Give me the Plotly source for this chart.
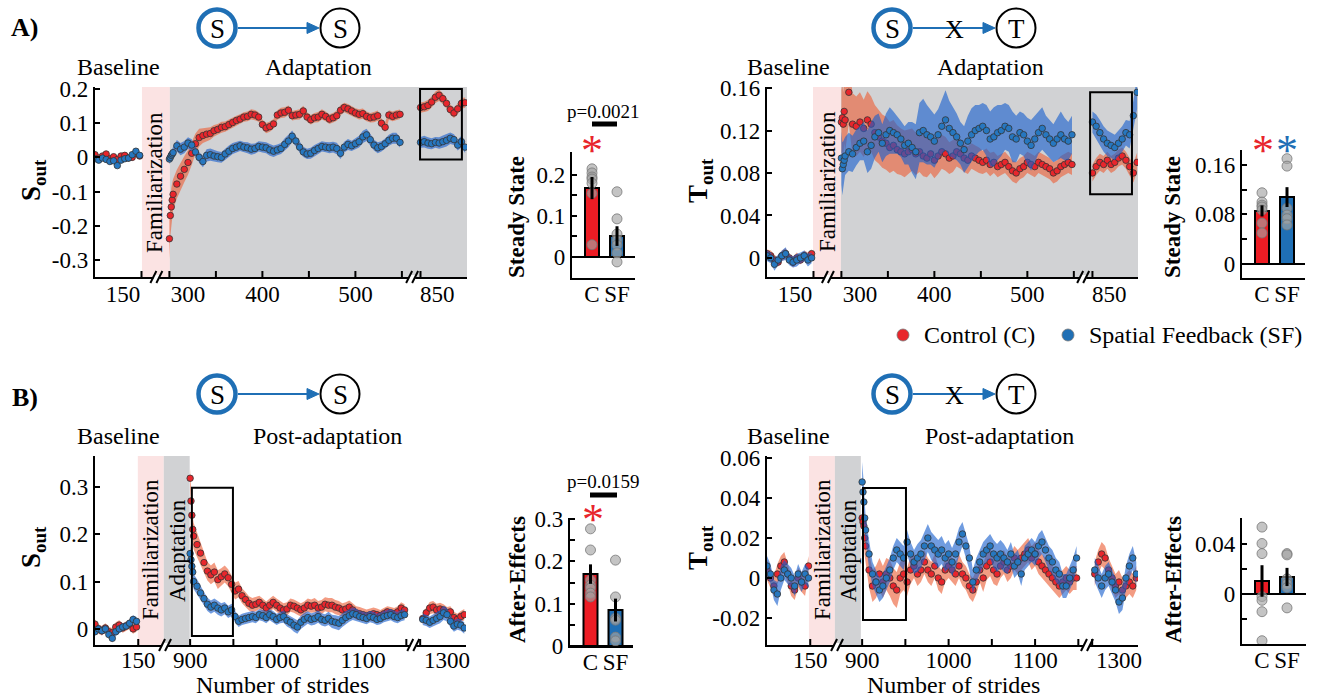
import plotly.graph_objects as go

W, H = 1317, 697
FONT = "Liberation Serif"
RED = "#E8262C"
BLUE = "#2677C0"
RED_BAR = "#ED1C24"
BLUE_BAR = "#1F6FB5"
RED_BAND = "rgba(236,95,55,0.62)"
BLUE_BAND = "rgba(25,95,205,0.62)"
GRAY = "#D1D2D4"
PINK = "#FBE3E3"

# ------------------------------------------------------------------ data
# stride numbers of each segment
base_strides = [101 + 4 * i for i in range(13)]
adapt_strides = [300, 301, 302, 303] + [304 + 4 * i for i in range(62)]
late_adapt_strides = [832 + 4 * i for i in range(13)]
post_strides = [900, 901, 902, 903] + [904 + 4 * i for i in range(62)]
late_post_strides = [1272 + 4 * i for i in range(13)]

# ---- A) S_out (spatial) during adaptation ----
SA_base_C = [0.008, -0.002, 0.004, 0.010, -0.004, 0.002, -0.006, 0.004, 0.006, -0.002, 0.000, 0.012, 0.004]
SA_base_SF = [-0.004, -0.008, -0.002, -0.006, -0.012, -0.010, -0.024, -0.008, -0.004, -0.002, 0.008, 0.018, 0.006]
SA_adapt_C = [-0.238, -0.170, -0.145, -0.125,
              -0.108, -0.078, -0.055, -0.035, -0.015, 0.012, 0.040, 0.058, 0.064, 0.068,
              0.070, 0.078, 0.082, 0.088, 0.090, 0.096, 0.102, 0.108, 0.112, 0.118,
              0.120, 0.126, 0.124, 0.118, 0.096, 0.086, 0.090, 0.098, 0.124, 0.130,
              0.132, 0.138, 0.122, 0.124, 0.126, 0.136, 0.118, 0.110, 0.116, 0.118,
              0.126, 0.120, 0.112, 0.116, 0.122, 0.138, 0.146, 0.142, 0.136, 0.130,
              0.126, 0.128, 0.120, 0.116, 0.118, 0.122, 0.100, 0.088, 0.124, 0.120,
              0.124, 0.126]
SA_adapt_SF = [-0.005, 0.000, 0.006, 0.010,
               0.014, 0.034, 0.024, 0.030, 0.042, 0.036, 0.016, 0.000, -0.012, 0.006,
               0.008, 0.004, 0.002, 0.000, 0.010, 0.018, 0.026, 0.030, 0.034, 0.030,
               0.028, 0.024, 0.026, 0.032, 0.030, 0.028, 0.022, 0.018, 0.022, 0.026,
               0.038, 0.048, 0.062, 0.048, 0.030, 0.016, 0.010, 0.012, 0.020, 0.026,
               0.032, 0.030, 0.028, 0.030, 0.026, 0.012, 0.030, 0.038, 0.034, 0.040,
               0.046, 0.060, 0.066, 0.052, 0.036, 0.028, 0.032, 0.040, 0.050, 0.056,
               0.056, 0.044]
SA_late_C = [0.146, 0.148, 0.152, 0.162, 0.176, 0.182, 0.172, 0.158, 0.140, 0.130, 0.142, 0.158, 0.160]
SA_late_SF = [0.044, 0.046, 0.042, 0.040, 0.044, 0.042, 0.046, 0.050, 0.056, 0.052, 0.036, 0.046, 0.030]
# standard errors (x 0.001)
SA_base_C_se = [8, 8, 7, 8, 8, 7, 8, 8, 7, 8, 8, 9, 8]
SA_base_SF_se = [7, 8, 8, 7, 8, 9, 8, 7, 8, 8, 8, 9, 8]
SA_adapt_C_se = [60, 60, 55, 50,
                 45, 42, 40, 38, 36, 34, 30, 26, 22, 20,
                 18, 17, 16, 16, 15, 15, 15, 14, 14, 14,
                 14, 15, 15, 14, 14, 15, 15, 14, 14, 15,
                 15, 14, 14, 14, 15, 15, 14, 14, 14, 15,
                 15, 14, 14, 14, 15, 15, 14, 14, 14, 14,
                 15, 15, 14, 14, 15, 15, 14, 14, 14, 14,
                 14, 14]
SA_adapt_SF_se = [15, 15, 15, 15,
                  16, 17, 18, 18, 17, 17, 16, 16, 17, 18,
                  18, 17, 16, 16, 17, 17, 16, 16, 15, 15,
                  16, 16, 15, 15, 16, 16, 17, 17, 16, 16,
                  18, 18, 17, 16, 16, 15, 15, 16, 16, 16,
                  15, 15, 16, 16, 17, 17, 16, 16, 15, 16,
                  17, 18, 18, 17, 16, 16, 15, 15, 16, 16,
                  16, 15]
SA_late_C_se = [15, 15, 16, 16, 17, 17, 16, 16, 15, 15, 16, 16, 15]
SA_late_SF_se = [16, 17, 17, 16, 16, 17, 18, 18, 17, 16, 16, 17, 17]

# ---- A) T_out (temporal) during adaptation ----
TA_base_C = [0.004, 0.002, -0.002, -0.004, 0.002, 0.004, 0.000, -0.004, 0.000, -0.002, 0.002, 0.000, 0.004]
TA_base_SF = [0.002, 0.000, -0.006, -0.002, 0.002, 0.004, -0.002, -0.004, -0.002, 0.000, 0.002, -0.002, 0.000]
TA_adapt_C = [0.128, 0.132, 0.126, 0.138,
              0.130, 0.156, 0.126, 0.124, 0.128, 0.122, 0.130, 0.126, 0.118, 0.114,
              0.110, 0.108, 0.104, 0.106, 0.102, 0.100, 0.098, 0.100, 0.102, 0.098,
              0.100, 0.096, 0.094, 0.098, 0.092, 0.096, 0.100, 0.098, 0.094, 0.096,
              0.100, 0.098, 0.094, 0.092, 0.096, 0.094, 0.092, 0.090, 0.092, 0.088,
              0.090, 0.086, 0.088, 0.090, 0.086, 0.082, 0.080, 0.084, 0.086, 0.090,
              0.088, 0.086, 0.090, 0.088, 0.086, 0.084, 0.080, 0.082, 0.086, 0.088,
              0.090, 0.088]
TA_adapt_SF = [0.094, 0.084, 0.088, 0.092,
               0.096, 0.100, 0.098, 0.104, 0.108, 0.110, 0.100, 0.106, 0.114, 0.118,
               0.108, 0.116, 0.120, 0.118, 0.116, 0.112, 0.106, 0.108, 0.104, 0.100,
               0.118, 0.120, 0.116, 0.114, 0.110, 0.116, 0.124, 0.130, 0.122, 0.118,
               0.114, 0.108, 0.102, 0.110, 0.116, 0.120, 0.122, 0.124, 0.120, 0.112,
               0.114, 0.118, 0.120, 0.124, 0.122, 0.114, 0.112, 0.118, 0.116, 0.110,
               0.106, 0.112, 0.118, 0.122, 0.116, 0.112, 0.108, 0.112, 0.116, 0.112,
               0.110, 0.116]
TA_late_C = [0.080, 0.086, 0.090, 0.088, 0.092, 0.088, 0.090, 0.094, 0.096, 0.092, 0.086, 0.080, 0.090]
TA_late_SF = [0.128, 0.124, 0.118, 0.112, 0.108, 0.106, 0.104, 0.108, 0.112, 0.118, 0.116, 0.134, 0.156]
TA_base_C_se = [4, 5, 5, 4, 5, 5, 4, 5, 5, 4, 5, 5, 4]
TA_base_SF_se = [5, 5, 6, 5, 5, 6, 5, 5, 6, 5, 5, 6, 5]
TA_adapt_C_se = [30, 32, 30, 30,
                 30, 30, 29, 28, 28, 27, 27, 26, 26, 25,
                 25, 25, 24, 24, 23, 22, 22, 21, 20, 20,
                 19, 19, 18, 18, 17, 17, 16, 16, 15, 15,
                 14, 14, 13, 13, 12, 12, 12, 11, 11, 11,
                 10, 10, 10, 10, 10, 10, 10, 10, 10, 10,
                 10, 10, 10, 10, 10, 10, 10, 10, 10, 10,
                 10, 10]
TA_adapt_SF_se = [25, 25, 22, 20,
                  18, 18, 17, 17, 16, 18, 20, 22, 20, 18,
                  18, 20, 22, 20, 18, 17, 18, 20, 24, 26,
                  28, 30, 28, 26, 25, 24, 26, 28, 26, 24,
                  22, 20, 22, 24, 25, 24, 22, 22, 24, 26,
                  28, 26, 24, 22, 22, 24, 22, 20, 20, 22,
                  24, 22, 20, 20, 18, 18, 18, 20, 22, 20,
                  18, 18]
TA_late_C_se = [8, 8, 8, 8, 8, 8, 8, 8, 8, 8, 8, 9, 9]
TA_late_SF_se = [10, 11, 12, 12, 12, 12, 12, 12, 12, 12, 13, 14, 16]

# ---- B) S_out post-adaptation ----
SP_base_C = [0.010, 0.000, -0.004, 0.002, -0.006, -0.008, 0.004, 0.008, 0.002, 0.006, 0.010, 0.000, 0.004]
SP_base_SF = [-0.006, 0.000, -0.004, 0.000, -0.012, -0.020, -0.006, 0.000, 0.004, 0.006, 0.012, 0.020, 0.016]
SP_post_C = [0.318, 0.270, 0.240, 0.210,
             0.196, 0.178, 0.160, 0.140, 0.122, 0.114, 0.120, 0.104, 0.110, 0.116,
             0.108, 0.094, 0.080, 0.084, 0.070, 0.062, 0.054, 0.050, 0.052, 0.056,
             0.050, 0.044, 0.050, 0.056, 0.050, 0.044, 0.040, 0.042, 0.050, 0.048,
             0.044, 0.040, 0.044, 0.050, 0.048, 0.050, 0.044, 0.046, 0.052, 0.050,
             0.050, 0.046, 0.044, 0.040, 0.042, 0.046, 0.040, 0.034, 0.032, 0.030,
             0.028, 0.030, 0.032, 0.030, 0.028, 0.032, 0.036, 0.034, 0.032, 0.036,
             0.044, 0.040]
SP_post_SF = [0.159, 0.146, 0.132, 0.120,
              0.100, 0.090, 0.076, 0.064, 0.052, 0.046, 0.050, 0.044, 0.040, 0.044,
              0.036, 0.040, 0.026, 0.016, 0.020, 0.022, 0.024, 0.026, 0.024, 0.030,
              0.028, 0.024, 0.030, 0.026, 0.020, 0.024, 0.026, 0.018, 0.014, 0.008,
              0.004, 0.014, 0.020, 0.024, 0.020, 0.022, 0.026, 0.020, 0.018, 0.022,
              0.016, 0.014, 0.012, 0.018, 0.024, 0.028, 0.032, 0.030, 0.026, 0.024,
              0.022, 0.026, 0.024, 0.020, 0.022, 0.026, 0.028, 0.030, 0.026, 0.024,
              0.028, 0.030]
SP_late_C = [0.022, 0.034, 0.044, 0.046, 0.040, 0.042, 0.040, 0.034, 0.036, 0.024, 0.020, 0.026, 0.030]
SP_late_SF = [0.020, 0.018, 0.014, 0.018, 0.022, 0.026, 0.034, 0.030, 0.016, 0.006, 0.010, 0.008, 0.002]
SP_base_C_se = [10, 10, 10, 10, 10, 10, 10, 10, 10, 10, 10, 10, 10]
SP_base_SF_se = [8, 8, 8, 8, 8, 8, 9, 9, 8, 8, 8, 9, 9]
SP_post_C_se = [20, 25, 28, 28,
                28, 26, 24, 22, 20, 20, 20, 20, 18, 18,
                18, 18, 18, 17, 16, 16, 15, 15, 15, 14,
                14, 14, 14, 14, 14, 14, 14, 14, 14, 14,
                14, 14, 14, 14, 14, 15, 15, 15, 15, 15,
                15, 15, 15, 14, 14, 14, 14, 14, 14, 13,
                13, 13, 13, 13, 12, 12, 12, 12, 12, 12,
                12, 12]
SP_post_SF_se = [20, 20, 20, 18,
                 16, 15, 14, 14, 14, 14, 14, 14, 14, 13,
                 13, 13, 12, 12, 12, 12, 12, 12, 12, 12,
                 12, 12, 12, 12, 12, 12, 13, 13, 13, 14,
                 14, 14, 14, 13, 13, 13, 13, 13, 13, 14,
                 14, 15, 15, 14, 14, 13, 13, 13, 12, 12,
                 12, 12, 12, 12, 12, 12, 12, 12, 12, 12,
                 12, 12]
SP_late_C_se = [12, 12, 13, 13, 13, 13, 12, 12, 12, 12, 12, 12, 12]
SP_late_SF_se = [12, 12, 12, 12, 13, 14, 15, 14, 13, 12, 12, 12, 12]

# ---- B) T_out post-adaptation ----
TP_base_C = [0.004, 0.000, -0.004, 0.002, 0.006, 0.008, 0.002, -0.004, -0.006, 0.000, -0.002, -0.004, 0.006]
TP_base_SF = [0.006, 0.002, -0.006, -0.008, 0.000, 0.004, 0.002, 0.000, -0.004, 0.002, -0.002, 0.002, 0.000]
TP_post_C = [0.030, 0.028, 0.026, 0.020,
             0.016, 0.004, -0.004, -0.002, 0.002, -0.002, 0.002, 0.000, -0.004, -0.006,
             0.000, 0.002, -0.002, 0.004, 0.006, 0.002, 0.004, 0.008, 0.004, 0.002,
             0.006, 0.000, -0.002, 0.004, 0.006, 0.004, 0.002, 0.006, 0.002, 0.000,
             -0.004, -0.006, -0.002, 0.004, 0.000, 0.006, 0.008, 0.004, 0.002, 0.006,
             0.008, 0.004, 0.006, 0.010, 0.008, 0.010, 0.012, 0.014, 0.010, 0.012,
             0.008, 0.006, 0.004, 0.002, 0.000, -0.002, -0.004, -0.002, 0.000, -0.002,
             0.000, 0.000]
TP_post_SF = [0.048, 0.043, 0.038, 0.030,
              0.024, 0.012, 0.002, -0.002, -0.006, -0.004, 0.000, 0.004, 0.010, 0.014,
              0.012, 0.010, 0.018, 0.012, 0.008, 0.010, 0.012, 0.016, 0.020, 0.016,
              0.014, 0.012, 0.014, 0.010, 0.012, 0.008, 0.012, 0.018, 0.022, 0.016,
              0.010, -0.002, 0.004, 0.008, 0.012, 0.014, 0.016, 0.012, 0.010, 0.012,
              0.010, 0.008, 0.012, 0.006, 0.008, 0.002, 0.010, 0.012, 0.014, 0.012,
              0.016, 0.018, 0.014, 0.010, 0.008, 0.004, 0.002, -0.004, -0.004, 0.000,
              0.004, 0.010]
TP_late_C = [0.002, 0.008, 0.012, 0.010, 0.004, 0.000, -0.004, -0.002, -0.006, -0.004, -0.002, -0.004, 0.000]
TP_late_SF = [0.004, 0.000, -0.004, 0.000, 0.002, -0.002, -0.006, -0.012, -0.010, 0.000, 0.006, 0.010, 0.002]
TP_base_C_se = [5, 5, 5, 5, 5, 5, 5, 5, 5, 5, 5, 5, 5]
TP_base_SF_se = [5, 5, 5, 6, 6, 5, 5, 5, 5, 5, 5, 5, 5]
TP_post_C_se = [10, 10, 9, 9,
                9, 9, 8, 8, 8, 8, 8, 9, 9, 9,
                8, 8, 7, 7, 6, 6, 6, 6, 6, 6,
                6, 6, 6, 6, 6, 6, 6, 6, 6, 6,
                6, 6, 6, 6, 7, 7, 7, 7, 6, 6,
                6, 6, 6, 6, 6, 6, 6, 6, 6, 6,
                6, 6, 6, 6, 6, 6, 6, 6, 6, 6,
                6, 6]
TP_post_SF_se = [10, 10, 9, 8,
                 7, 7, 6, 6, 6, 6, 6, 6, 6, 6,
                 6, 6, 6, 6, 6, 7, 7, 7, 7, 7,
                 7, 7, 7, 7, 7, 7, 7, 7, 6, 6,
                 6, 6, 6, 6, 6, 6, 6, 7, 7, 7,
                 7, 6, 6, 6, 6, 6, 6, 6, 6, 6,
                 6, 6, 6, 6, 6, 6, 6, 6, 6, 6,
                 6, 6]
TP_late_C_se = [6, 6, 6, 6, 6, 6, 6, 6, 6, 6, 6, 6, 6]
TP_late_SF_se = [6, 6, 6, 6, 6, 6, 6, 6, 6, 6, 6, 6, 6]

# ---- bar summaries (mean, SE, individual subjects) ----
groups = ["C", "SF"]
steady_S_mean = [0.168, 0.051]
steady_S_se = [0.027, 0.024]
steady_S_C_subj = [0.215, 0.205, 0.195, 0.190, 0.180, 0.155, 0.030]
steady_S_SF_subj = [0.159, 0.093, 0.056, 0.041, 0.029, 0.010, -0.012]
steady_T_mean = [0.0857, 0.108]
steady_T_se = [0.009, 0.016]
steady_T_C_subj = [0.115, 0.100, 0.095, 0.092, 0.087, 0.066, 0.050]
steady_T_SF_subj = [0.170, 0.158, 0.090, 0.079, 0.073, 0.063]
after_S_mean = [0.170, 0.085]
after_S_se = [0.023, 0.027]
after_S_C_subj = [0.277, 0.227, 0.156, 0.144, 0.137, 0.125, 0.116]
after_S_SF_subj = [0.203, 0.116, 0.066, 0.061, 0.021, 0.012]
after_T_mean = [0.0103, 0.0135]
after_T_se = [0.0125, 0.0072]
after_T_C_subj = [0.053, 0.040, 0.032, -0.002, -0.005, -0.014, -0.037]
after_T_SF_subj = [0.032, 0.031, 0.012, 0.008, 0.005, -0.011]

# ------------------------------------------------------------------ layout helpers
fig = go.Figure()


def pxx(x):
    return x / W


def pyy(y):
    return 1 - y / H


# panel: axis suffix -> pixel box and ranges
P = {
    1: dict(xd=(95, 467), yd=(87, 277), xr=[0, 400], yr=[-0.35, 0.206]),
    2: dict(xd=(767, 1138), yd=(87, 277), xr=[0, 399], yr=[-0.018, 0.161]),
    3: dict(xd=(95, 466), yd=(456, 645), xr=[0, 429], yr=[-0.034, 0.365]),
    4: dict(xd=(767, 1138), yd=(456, 645), xr=[0, 429], yr=[-0.0335, 0.061]),
    5: dict(xd=(572, 635), yd=(152, 278), xr=[0.2, 2.72], yr=[-0.0512, 0.256]),
    6: dict(xd=(1242, 1305), yd=(150, 278), xr=[0.2, 2.72], yr=[-0.0226, 0.184]),
    7: dict(xd=(570, 633), yd=(518, 646), xr=[0.18, 2.7], yr=[0, 0.3026]),
    8: dict(xd=(1242, 1306), yd=(518, 644), xr=[0.2, 2.76], yr=[-0.0396, 0.0602]),
}
standoff = {1: -5, 2: -5, 3: -7, 4: -7, 5: -6, 6: -6, 7: -6, 8: -6}

tick_font = dict(family=FONT, size=23, color="black")
layout_axes = {}
for k, p in P.items():
    xs = "" if k == 1 else str(k)
    layout_axes["xaxis" + xs] = dict(
        domain=[pxx(p["xd"][0]), pxx(p["xd"][1])], range=p["xr"], anchor="y" + xs,
        showline=True, linecolor="black", linewidth=2.2, showgrid=False, zeroline=False,
        ticks="", tickfont=tick_font, fixedrange=True, automargin=False,
        ticklabelstandoff=standoff[k])
    layout_axes["yaxis" + xs] = dict(
        domain=[pyy(p["yd"][1]), pyy(p["yd"][0])], range=p["yr"], anchor="x" + xs,
        showline=True, linecolor="black", linewidth=2.2, showgrid=False, zeroline=False,
        ticks="inside", ticklen=5, tickwidth=2, tickcolor="black", tickfont=tick_font,
        fixedrange=True, automargin=False)

# x tick labels of the broken time axes
for k in (1, 2):
    xs = "" if k == 1 else str(k)
    layout_axes["xaxis" + xs].update(tickvals=[30, 100, 180, 280, 368],
                                     ticktext=["150", "300", "400", "500", "850"])
for k in (3, 4):
    layout_axes["xaxis" + str(k)].update(tickvals=[50, 110, 210, 310, 407],
                                         ticktext=["150", "900", "1000", "1100", "1300"])
layout_axes["yaxis"].update(tickvals=[-0.3, -0.2, -0.1, 0, 0.1, 0.2],
                            ticktext=["-0.3", "-0.2", "-0.1", "0", "0.1", "0.2"])
layout_axes["yaxis2"].update(tickvals=[0, 0.04, 0.08, 0.12, 0.16],
                             ticktext=["0", "0.04", "0.08", "0.12", "0.16"])
layout_axes["yaxis3"].update(tickvals=[0, 0.1, 0.2, 0.3], ticktext=["0", "0.1", "0.2", "0.3"])
layout_axes["yaxis4"].update(tickvals=[-0.02, 0, 0.02, 0.04, 0.06],
                             ticktext=["-0.02", "0", "0.02", "0.04", "0.06"])
# bar axes: labelled major ticks + unlabelled minor ticks
minor_style = dict(ticks="inside", ticklen=5, tickwidth=2, tickcolor="black", showgrid=False)
for k in (5, 6, 7, 8):
    layout_axes["xaxis" + str(k)].update(tickvals=[1, 2], ticktext=groups)
    layout_axes["yaxis" + str(k)].update(zeroline=True, zerolinecolor="black", zerolinewidth=2.2)
layout_axes["yaxis5"].update(tickvals=[0, 0.1, 0.2], ticktext=["0", "0.1", "0.2"],
                             minor=dict(tickmode="array", tickvals=[0.05, 0.15], **minor_style))
layout_axes["yaxis6"].update(tickvals=[0, 0.08, 0.16], ticktext=["0", "0.08", "0.16"],
                             minor=dict(tickmode="array", tickvals=[0.04, 0.12], **minor_style))
layout_axes["yaxis7"].update(tickvals=[0, 0.1, 0.2, 0.3], ticktext=["0", "0.1", "0.2", "0.3"],
                             minor=dict(tickmode="array", tickvals=[0.05, 0.15, 0.25], **minor_style))
layout_axes["yaxis8"].update(tickvals=[-0.04, 0, 0.04], ticktext=["-0.04", "0", "0.04"],
                             minor=dict(tickmode="array", tickvals=[-0.02, 0.02, 0.06], **minor_style))

shapes = []
annotations = []


def axn(k):
    return ("x" if k == 1 else "x" + str(k)), ("y" if k == 1 else "y" + str(k))


def u2px(k, u):
    p = P[k]
    return p["xd"][0] + (u - p["xr"][0]) / (p["xr"][1] - p["xr"][0]) * (p["xd"][1] - p["xd"][0])


# ---- phase shading
def region(k, u0, u1, color):
    xa, ya = axn(k)
    shapes.append(dict(type="rect", xref=xa, yref=ya + " domain", x0=u0, x1=u1, y0=0, y1=1,
                       fillcolor=color, line=dict(width=0), layer="below"))


region(1, 50.5, 80.5, PINK); region(1, 80.5, 400, GRAY)
region(2, 49.5, 79.5, PINK); region(2, 79.5, 399, GRAY)
region(3, 49.5, 79.5, PINK); region(3, 79.5, 109.5, GRAY)
region(4, 48.5, 78.5, PINK); region(4, 78.5, 108.5, GRAY)


# ---- series
def series(k, segs, color, band):
    xa, ya = axn(k)
    for strides, vals, se, off in segs:
        u = [s - off for s in strides]
        up = [v + e / 1000 for v, e in zip(vals, se)]
        lo = [v - e / 1000 for v, e in zip(vals, se)]
        fig.add_trace(go.Scatter(x=u + u[::-1], y=up + lo[::-1], fill="toself", fillcolor=band,
                                 line=dict(width=0), mode="lines", hoverinfo="skip",
                                 xaxis=xa, yaxis=ya, showlegend=False))
    for strides, vals, se, off in segs:
        u = [s - off for s in strides]
        fig.add_trace(go.Scatter(x=u, y=vals, mode="markers",
                                 marker=dict(size=6.5, color=color, line=dict(width=0.8, color="#333333")),
                                 xaxis=xa, yaxis=ya, showlegend=False))


series(1, [(base_strides, SA_base_C, SA_base_C_se, 101), (adapt_strides, SA_adapt_C, SA_adapt_C_se, 220),
           (late_adapt_strides, SA_late_C, SA_late_C_se, 482)], RED, RED_BAND)
series(1, [(base_strides, SA_base_SF, SA_base_SF_se, 101), (adapt_strides, SA_adapt_SF, SA_adapt_SF_se, 220),
           (late_adapt_strides, SA_late_SF, SA_late_SF_se, 482)], BLUE, BLUE_BAND)
series(2, [(base_strides, TA_base_C, TA_base_C_se, 101), (adapt_strides, TA_adapt_C, TA_adapt_C_se, 220),
           (late_adapt_strides, TA_late_C, TA_late_C_se, 482)], RED, RED_BAND)
series(2, [(base_strides, TA_base_SF, TA_base_SF_se, 101), (adapt_strides, TA_adapt_SF, TA_adapt_SF_se, 220),
           (late_adapt_strides, TA_late_SF, TA_late_SF_se, 482)], BLUE, BLUE_BAND)
series(3, [(base_strides, SP_base_C, SP_base_C_se, 101), (post_strides, SP_post_C, SP_post_C_se, 790),
           (late_post_strides, SP_late_C, SP_late_C_se, 893)], RED, RED_BAND)
series(3, [(base_strides, SP_base_SF, SP_base_SF_se, 101), (post_strides, SP_post_SF, SP_post_SF_se, 790),
           (late_post_strides, SP_late_SF, SP_late_SF_se, 893)], BLUE, BLUE_BAND)
series(4, [(base_strides, TP_base_C, TP_base_C_se, 101), (post_strides, TP_post_C, TP_post_C_se, 790),
           (late_post_strides, TP_late_C, TP_late_C_se, 893)], RED, RED_BAND)
series(4, [(base_strides, TP_base_SF, TP_base_SF_se, 101), (post_strides, TP_post_SF, TP_post_SF_se, 790),
           (late_post_strides, TP_late_SF, TP_late_SF_se, 893)], BLUE, BLUE_BAND)

# ---- x tick marks (inside) and axis breaks of the time axes
tick_marks = {1: [50, 80, 130, 180, 230, 280, 330, 350], 2: [50, 80, 130, 180, 230, 280, 330, 350],
              3: [50, 110, 160, 210, 260, 310, 360, 376], 4: [50, 110, 160, 210, 260, 310, 360, 376]}
breaks = {1: [66, 341], 2: [65.5, 340], 3: [81, 368], 4: [81, 370]}
for k in (1, 2, 3, 4):
    xa, ya = axn(k)
    hpx = P[k]["yd"][1] - P[k]["yd"][0]
    for u in tick_marks[k]:
        shapes.append(dict(type="line", xref=xa, yref=ya + " domain", x0=u, x1=u, y0=0, y1=6 / hpx,
                           line=dict(color="black", width=2)))
    yb = P[k]["yd"][1]
    for u in breaks[k]:
        xb = u2px(k, u)
        shapes.append(dict(type="rect", xref="paper", yref="paper", x0=pxx(xb - 3), x1=pxx(xb + 3),
                           y0=pyy(yb + 2), y1=pyy(yb - 2), fillcolor="white", line=dict(width=0)))
        for d in (-3, 3):
            shapes.append(dict(type="line", xref="paper", yref="paper",
                               x0=pxx(xb + d - 3), y0=pyy(yb + 6), x1=pxx(xb + d + 3), y1=pyy(yb - 6),
                               line=dict(color="black", width=2)))

# ---- steady-state / early post-adaptation windows
box_specs = [(1, 349.5, 394.5, -0.006, 0.2), (2, 347.5, 392.5, 0.060, 0.156),
             (3, 112, 159.5, -0.015, 0.298), (4, 111, 160.7, -0.021, 0.045)]
for k, x0, x1, y0, y1 in box_specs:
    xa, ya = axn(k)
    shapes.append(dict(type="rect", xref=xa, yref=ya, x0=x0, x1=x1, y0=y0, y1=y1,
                       line=dict(color="black", width=2), fillcolor="rgba(0,0,0,0)"))


# ---- bar panels
def bar_panel(k, means, ses, subj_c, subj_sf):
    xa, ya = axn(k)
    fig.add_trace(go.Bar(x=[1, 2], y=means, width=0.56, marker=dict(color=[RED_BAR, BLUE_BAR],
                         line=dict(color="black", width=2)), xaxis=xa, yaxis=ya, showlegend=False))
    for xc, subj in ((1, subj_c), (2, subj_sf)):
        fig.add_trace(go.Scatter(x=[xc] * len(subj), y=subj, mode="markers",
                                 marker=dict(size=10, color="rgba(165,165,165,0.65)",
                                             line=dict(width=1, color="rgba(120,120,120,0.8)")),
                                 xaxis=xa, yaxis=ya, showlegend=False))
    fig.add_trace(go.Scatter(x=[1, 2], y=means, mode="markers", marker=dict(size=1, color="rgba(0,0,0,0)"),
                             error_y=dict(type="data", array=ses, color="black", thickness=3, width=0),
                             xaxis=xa, yaxis=ya, showlegend=False))


bar_panel(5, steady_S_mean, steady_S_se, steady_S_C_subj, steady_S_SF_subj)
bar_panel(6, steady_T_mean, steady_T_se, steady_T_C_subj, steady_T_SF_subj)
bar_panel(7, after_S_mean, after_S_se, after_S_C_subj, after_S_SF_subj)
bar_panel(8, after_T_mean, after_T_se, after_T_C_subj, after_T_SF_subj)


# ---- texts
def txt(x, y, s, size=24, bold=False, angle=0, xanchor="center", color="black"):
    annotations.append(dict(x=pxx(x), y=pyy(y), xref="paper", yref="paper", text=("<b>%s</b>" % s) if bold else s,
                            showarrow=False, textangle=angle, xanchor=xanchor, yanchor="middle",
                            font=dict(family=FONT, size=size, color=color)))


txt(24, 28, "A)", 26, bold=True)
txt(25, 397, "B)", 26, bold=True)
for yy in (67, 436):
    txt(118, yy, "Baseline"); txt(789, yy, "Baseline")
txt(318, 67, "Adaptation"); txt(990, 67, "Adaptation")
txt(327, 436, "Post-adaptation"); txt(999, 436, "Post-adaptation")
txt(154, 183, "Familiarization", 23, angle=-90)
txt(827, 182, "Familiarization", 23, angle=-90)
txt(150, 550, "Familiarization", 23, angle=-90)
txt(822, 550, "Familiarization", 23, angle=-90)
txt(177, 551, "Adaptation", 23, angle=-90)
txt(848, 551, "Adaptation", 23, angle=-90)
txt(282, 685, "Number of strides")
txt(953, 685, "Number of strides")
txt(33, 180, "S<sub>out</sub>", 27, bold=True, angle=-90)
txt(33, 547, "S<sub>out</sub>", 27, bold=True, angle=-90)
txt(700, 180, "T<sub>out</sub>", 27, bold=True, angle=-90)
txt(700, 547, "T<sub>out</sub>", 27, bold=True, angle=-90)
txt(517, 217, "Steady State", 23, bold=True, angle=-90)
txt(1173, 217, "Steady State", 23, bold=True, angle=-90)
txt(517, 580, "After-Effects", 23, bold=True, angle=-90)
txt(1173, 580, "After-Effects", 23, bold=True, angle=-90)
txt(603, 112, "p=0.0021", 19)
txt(603, 481, "p=0.0159", 19)
shapes.append(dict(type="rect", xref="paper", yref="paper", x0=pxx(592), x1=pxx(617), y0=pyy(126.5),
                   y1=pyy(121.5), fillcolor="black", line=dict(width=0)))
shapes.append(dict(type="rect", xref="paper", yref="paper", x0=pxx(590), x1=pxx(617), y0=pyy(497.5),
                   y1=pyy(492.5), fillcolor="black", line=dict(width=0)))
txt(592, 150, "*", 44, color=RED)
txt(593, 519, "*", 44, color=RED)
txt(1263, 150, "*", 44, color=RED)
txt(1287, 150, "*", 44, color=BLUE_BAR)

# legend
for cx, col, lab in ((903, RED, "Control (C)"), (1068, BLUE_BAR, "Spatial Feedback (SF)")):
    shapes.append(dict(type="circle", xref="paper", yref="paper", x0=pxx(cx - 6), x1=pxx(cx + 6),
                       y0=pyy(341), y1=pyy(329), fillcolor=col, line=dict(color="#777777", width=0.8)))
    txt(cx + 19, 335, lab, 24, xanchor="left")


# ---- S -> S / S -X-> T diagrams
def diagram(cx1, cx2, cy, l1, l2, cross):
    shapes.append(dict(type="circle", xref="paper", yref="paper", x0=pxx(cx1 - 18.5), x1=pxx(cx1 + 18.5),
                       y0=pyy(cy + 18.5), y1=pyy(cy - 18.5), line=dict(color=BLUE_BAR, width=4.5)))
    shapes.append(dict(type="circle", xref="paper", yref="paper", x0=pxx(cx2 - 19.5), x1=pxx(cx2 + 19.5),
                       y0=pyy(cy + 19.5), y1=pyy(cy - 19.5), line=dict(color="black", width=2)))
    x_start, x_end = cx1 + 21, cx2 - 21
    shapes.append(dict(type="line", xref="paper", yref="paper", x0=pxx(x_start), x1=pxx(x_end - 8),
                       y0=pyy(cy), y1=pyy(cy), line=dict(color=BLUE_BAR, width=2.2)))
    path = "M %f,%f L %f,%f L %f,%f Z" % (pxx(x_end), pyy(cy), pxx(x_end - 12), pyy(cy - 5.5),
                                          pxx(x_end - 12), pyy(cy + 5.5))
    shapes.append(dict(type="path", xref="paper", yref="paper", path=path, fillcolor=BLUE_BAR,
                       line=dict(color=BLUE_BAR, width=1)))
    txt(cx1, cy + 1, l1, 27)
    txt(cx2, cy + 1, l2, 27)
    if cross:
        txt((cx1 + cx2) / 2, cy + 1, "X", 26)


diagram(217, 340, 28, "S", "S", False)
diagram(892, 1016, 28, "S", "T", True)
diagram(217, 340, 394, "S", "S", False)
diagram(892, 1016, 394, "S", "T", True)

fig.update_layout(template="none", width=W, height=H, autosize=False, margin=dict(l=0, r=0, t=0, b=0, pad=0),
                  paper_bgcolor="white", plot_bgcolor="rgba(0,0,0,0)", showlegend=False,
                  font=dict(family=FONT, size=23, color="black"), barmode="overlay",
                  shapes=shapes, annotations=annotations, **layout_axes)

fig.write_html("out.html", include_plotlyjs=True, config={"displayModeBar": False, "staticPlot": True},
               post_script="document.body.style.margin='0';document.body.style.overflow='hidden';")
